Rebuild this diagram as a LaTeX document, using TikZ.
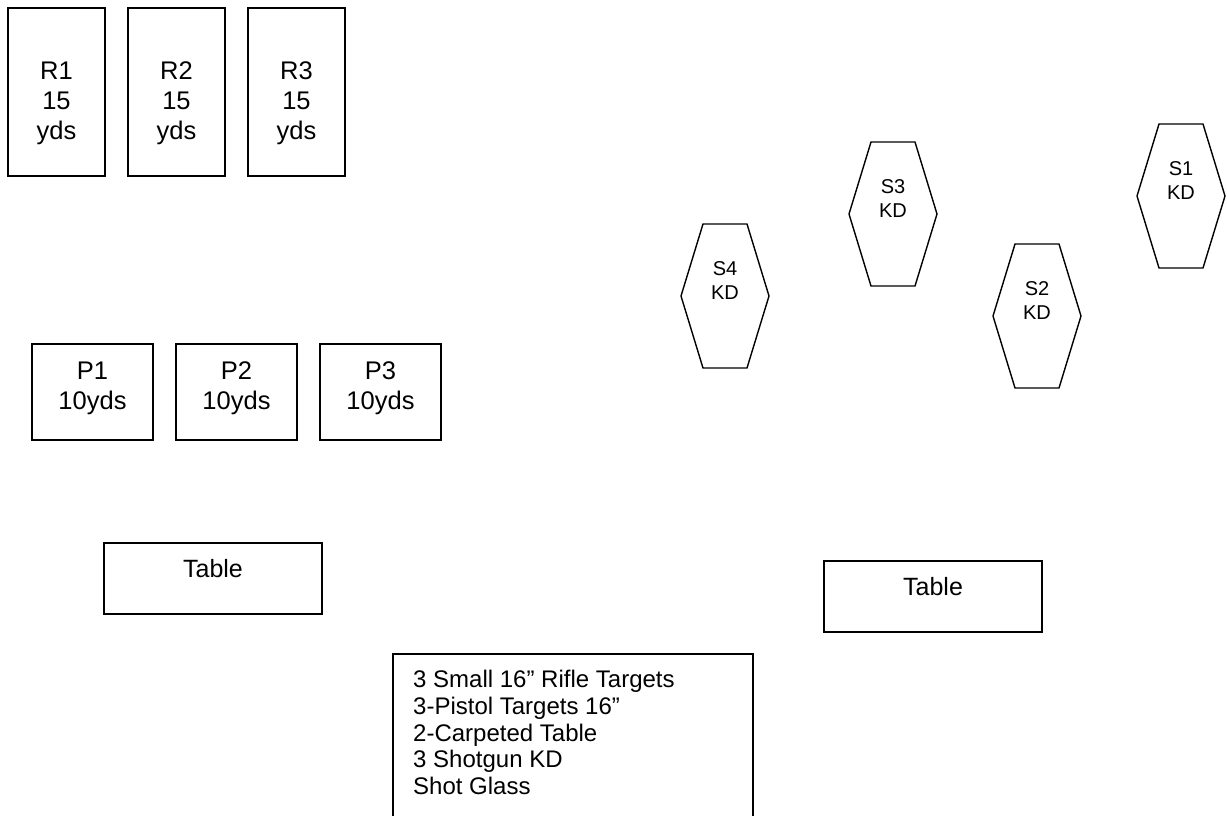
\documentclass[tikz,border=0pt]{standalone}
\usepackage{fontspec}
\setmainfont{Liberation Sans}
\usetikzlibrary{positioning}
\tikzset
{
    rangebox/.style  = {draw=black, line width=1.6pt, minimum width=97pt, minimum height=168pt, inner sep=0pt},
    pistolbox/.style = {draw=black, line width=1.6pt, minimum width=121pt, minimum height=96pt, inner sep=0pt},
    tablebox/.style  = {draw=black, line width=1.6pt, minimum width=218pt, minimum height=71pt, inner sep=0pt},
    notebox/.style   = {draw=black, line width=1.6pt, minimum width=360pt, minimum height=200pt, inner sep=0pt, anchor=north west},
    boxtext/.style   = {align=center, inner sep=0pt, font=\fontsize{25.5}{30}\selectfont},
    tabletext/.style = {inner sep=0pt, font=\fontsize{25}{30}\selectfont},
    platetext/.style = {align=center, inner sep=0pt, font=\fontsize{20}{23.5}\selectfont},
    listtext/.style  = {align=left, inner sep=0pt, anchor=north west, font=\fontsize{24}{26.7}\selectfont},
    steelplate/.pic  = {\draw[line width=1.4pt] (-22,-72) -- (22,-72) -- (44,0) -- (22,72) -- (-22,72) -- (-44,0) -- cycle;}
}
\begin{document}
\begin{tikzpicture}[x=1pt, y=-1pt]
    \useasboundingbox (0,0) rectangle (1227,815);
    \clip (0,0) rectangle (1227,815);

    % rifle targets
    \node [rangebox] (r1) at (56.5,92) {};
    \node [rangebox] (r2) at (176.5,92) {};
    \node [rangebox] (r3) at (296.5,92) {};
    \node [boxtext] (r1text) at ([yshift=-11.5pt]r1.center) {R1\\15\\yds};
    \node [boxtext] (r2text) at ([yshift=-11.5pt]r2.center) {R2\\15\\yds};
    \node [boxtext] (r3text) at ([yshift=-11.5pt]r3.center) {R3\\15\\yds};

    % pistol targets
    \node [pistolbox] (p1) at (92.5,392) {};
    \node [pistolbox] (p2) at (236.5,392) {};
    \node [pistolbox] (p3) at (380.5,392) {};
    \node [boxtext] (p1text) at ([yshift=4pt]p1.center) {P1\\10yds};
    \node [boxtext] (p2text) at ([yshift=4pt]p2.center) {P2\\10yds};
    \node [boxtext] (p3text) at ([yshift=4pt]p3.center) {P3\\10yds};

    % shotgun knock downs
    \pic at (1181,196) {steelplate};
    \pic at (1037,316) {steelplate};
    \pic at (893,214) {steelplate};
    \pic at (725,296) {steelplate};
    \node [platetext] (s1) at (1181,180.5) {S1\\KD};
    \node [platetext] (s2) at (1037,300.5) {S2\\KD};
    \node [platetext] (s3) at (893,198.5) {S3\\KD};
    \node [platetext] (s4) at (725,280.5) {S4\\KD};

    % tables
    \node [tablebox] (table1) at (213,578.5) {};
    \node [tablebox] (table2) at (933,596.5) {};
    \node [tabletext] (table1text) at ([yshift=10pt]table1.center) {Table};
    \node [tabletext] (table2text) at ([yshift=10pt]table2.center) {Table};

    % props list
    \node [notebox] (notes) at (392,653) {};
    \node [listtext] (notelist) at ([xshift=21pt, yshift=-17pt]notes.north west)
        {3 Small 16” Rifle Targets\\3-Pistol Targets 16”\\2-Carpeted Table\\3 Shotgun KD\\Shot Glass};
\end{tikzpicture}
\end{document}
